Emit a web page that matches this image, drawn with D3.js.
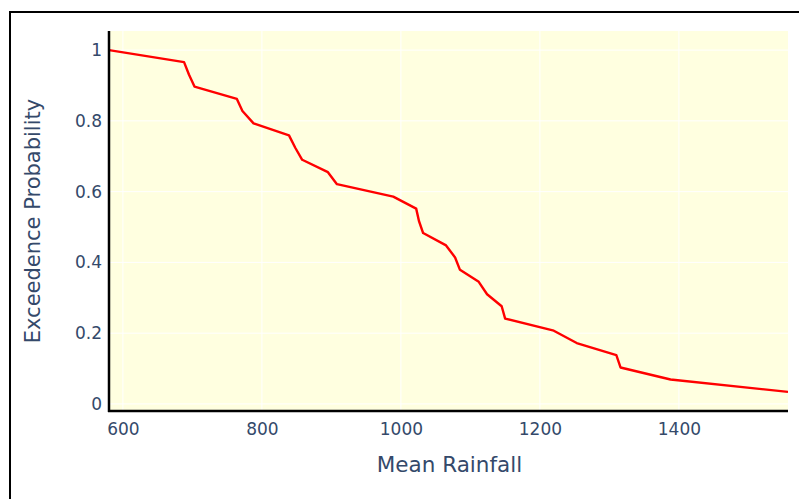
<!DOCTYPE html>
<html>
<head>
<meta charset="utf-8">
<script src="https://cdn.jsdelivr.net/npm/d3@7"></script>
<style>
  html, body { margin: 0; padding: 0; background: #fff; }
  svg { display: block; }
</style>
</head>
<body>
<script>
const rainfall = [580, 688, 695, 703, 764, 772, 788, 839, 848, 858, 895, 908, 989, 1022, 1026, 1032, 1065, 1078, 1085, 1112, 1124, 1145, 1150, 1220, 1253, 1310, 1316, 1388, 1557];
const probability = [1.0, 0.966, 0.931, 0.897, 0.862, 0.828, 0.793, 0.759, 0.724, 0.690, 0.655, 0.621, 0.586, 0.552, 0.517, 0.483, 0.448, 0.414, 0.379, 0.345, 0.310, 0.276, 0.241, 0.207, 0.172, 0.138, 0.103, 0.069, 0.034];
const xTicks = [600, 800, 1000, 1200, 1400];
const yTicks = [0, 0.2, 0.4, 0.6, 0.8, 1];
const xTitle = "Mean Rainfall";
const yTitle = "Exceedence Probability";

const W = 799, H = 499;
const plot = { left: 109, right: 788, top: 31, bottom: 411 };
const font = "'DejaVu Sans', Verdana, sans-serif";
const textColor = "#34496a";

const svg = d3.select("body").append("svg").attr("width", W).attr("height", H);

// outer frame
svg.append("rect").attr("x", 10).attr("y", 12).attr("width", 820).attr("height", 520)
  .attr("fill", "none").attr("stroke", "#000").attr("stroke-width", 2);

const x = d3.scaleLinear().domain([580, 1557]).range([plot.left, plot.right]);
const y = d3.scaleLinear().domain([-0.02, 1.054]).range([plot.bottom, plot.top]);

svg.append("rect").attr("x", plot.left).attr("y", plot.top)
  .attr("width", plot.right - plot.left).attr("height", plot.bottom - plot.top)
  .attr("fill", "#FFFFE0");

// gridlines
const grid = svg.append("g");
grid.selectAll(".gx").data(xTicks).enter().append("line")
  .attr("x1", d => x(d)).attr("x2", d => x(d)).attr("y1", plot.top).attr("y2", plot.bottom)
  .attr("stroke", "#fff").attr("stroke-width", 1);
grid.selectAll(".gy").data(yTicks).enter().append("line")
  .attr("y1", d => y(d)).attr("y2", d => y(d)).attr("x1", plot.left).attr("x2", plot.right)
  .attr("stroke", "#fff").attr("stroke-width", 1);

// line
const pts = rainfall.map((r, i) => [r, probability[i]]);
svg.append("clipPath").attr("id", "clip").append("rect")
  .attr("x", plot.left).attr("y", plot.top).attr("width", plot.right - plot.left).attr("height", plot.bottom - plot.top);
svg.append("path").datum(pts)
  .attr("clip-path", "url(#clip)")
  .attr("d", d3.line().x(d => x(d[0])).y(d => y(d[1])))
  .attr("fill", "none").attr("stroke", "#ff0000").attr("stroke-width", 2.4)
  .attr("stroke-linejoin", "round");

// axes
const xAxis = svg.append("g").attr("transform", `translate(0,${plot.bottom})`)
  .call(d3.axisBottom(x).tickValues(xTicks).tickFormat(d3.format("d")).tickSize(0).tickPadding(12));
const yAxis = svg.append("g").attr("transform", `translate(${plot.left},0)`)
  .call(d3.axisLeft(y).tickValues(yTicks).tickFormat(d => d === 0 || d === 1 ? String(d) : d3.format(".1f")(d)).tickSize(0).tickPadding(7));
[xAxis, yAxis].forEach(g => {
  g.select(".domain").attr("stroke", "#000").attr("stroke-width", 2.5);
  g.selectAll("text").attr("fill", textColor).style("font-family", font).style("font-size", "17px");
});
xAxis.select(".domain").attr("d", `M${plot.left - 1},0H${plot.right}`);
yAxis.select(".domain").attr("d", `M0,${plot.top}V${plot.bottom + 1}`);

svg.append("text").attr("x", (plot.left + plot.right) / 2 + 1).attr("y", 472)
  .attr("text-anchor", "middle").attr("fill", textColor)
  .style("font-family", font).style("font-size", "21.5px").text(xTitle);
svg.append("text").attr("transform", `translate(40,${(plot.top + plot.bottom) / 2}) rotate(-90)`)
  .attr("text-anchor", "middle").attr("fill", textColor)
  .style("font-family", font).style("font-size", "21px").text(yTitle);
</script>
</body>
</html>
